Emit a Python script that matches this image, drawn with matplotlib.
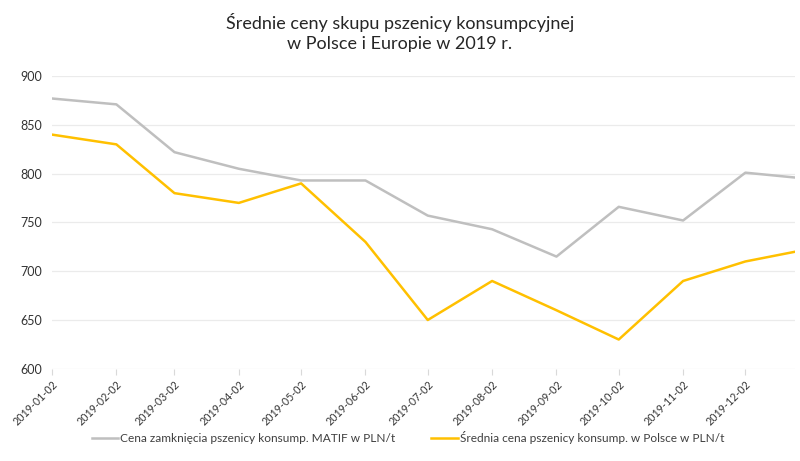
import numpy as np
import pandas as pd
import matplotlib
matplotlib.use("Agg")
import matplotlib.pyplot as plt
import matplotlib.dates as mdates

plt.rcParams['font.family'] = ['Lato', 'DejaVu Sans']

dates = pd.to_datetime([
    "2019-01-02", "2019-02-02", "2019-03-02", "2019-04-02", "2019-05-02",
    "2019-06-02", "2019-07-02", "2019-08-02", "2019-09-02", "2019-10-02",
    "2019-11-02", "2019-12-02", "2019-12-26",
])
matif = [877, 871, 822, 805, 793, 793, 757, 743, 715, 766, 752, 801, 796]
polska = [840, 830, 780, 770, 790, 730, 650, 690, 660, 630, 690, 710, 720]

tick_dates = pd.to_datetime([
    "2019-01-02", "2019-02-02", "2019-03-02", "2019-04-02", "2019-05-02",
    "2019-06-02", "2019-07-02", "2019-08-02", "2019-09-02", "2019-10-02",
    "2019-11-02", "2019-12-02",
])
yticks = [600, 650, 700, 750, 800, 850, 900]

title = "Średnie ceny skupu pszenicy konsumpcyjnej\nw Polsce i Europie w 2019 r."
label_matif = "Cena zamknięcia pszenicy konsump. MATIF w PLN/t"
label_pl = "Średnia cena pszenicy konsump. w Polsce w PLN/t"

fig = plt.figure(figsize=(8, 4.61), dpi=100)
ax = fig.add_axes([0.065, 0.2, 0.929, 0.635])

ax.plot(dates, matif, color="#BFBFBF", lw=1.8, label=label_matif)
ax.plot(dates, polska, color="#FFC000", lw=1.8, label=label_pl)

ax.set_ylim(600, 900)
ax.set_yticks(yticks)
ax.set_xlim(dates[0], dates[-1])
ax.set_xticks(tick_dates)
ax.xaxis.set_major_formatter(mdates.DateFormatter("%Y-%m-%d"))
plt.setp(ax.get_xticklabels(), rotation=45, ha="right", rotation_mode="anchor")

ax.grid(axis="y", color="#EBEBEB", lw=0.9)
ax.set_axisbelow(True)
for s in ax.spines.values():
    s.set_visible(False)
ax.tick_params(axis="y", length=0, labelsize=9, colors="#333333", pad=7)
ax.tick_params(axis="x", length=4, color="#D9D9D9", labelsize=7.7,
               labelcolor="#333333", pad=3)

fig.text(0.5, 0.972, title, ha="center", va="top", fontsize=13,
         color="#262626", linespacing=1.3)

fig.legend(loc="center", bbox_to_anchor=(0.51, 0.05), ncol=2, frameon=False,
           fontsize=8.6, handlelength=2.2, handletextpad=0.2,
           columnspacing=3.0, labelcolor="#404040")

fig.savefig("out.png", dpi=100, facecolor="white")
